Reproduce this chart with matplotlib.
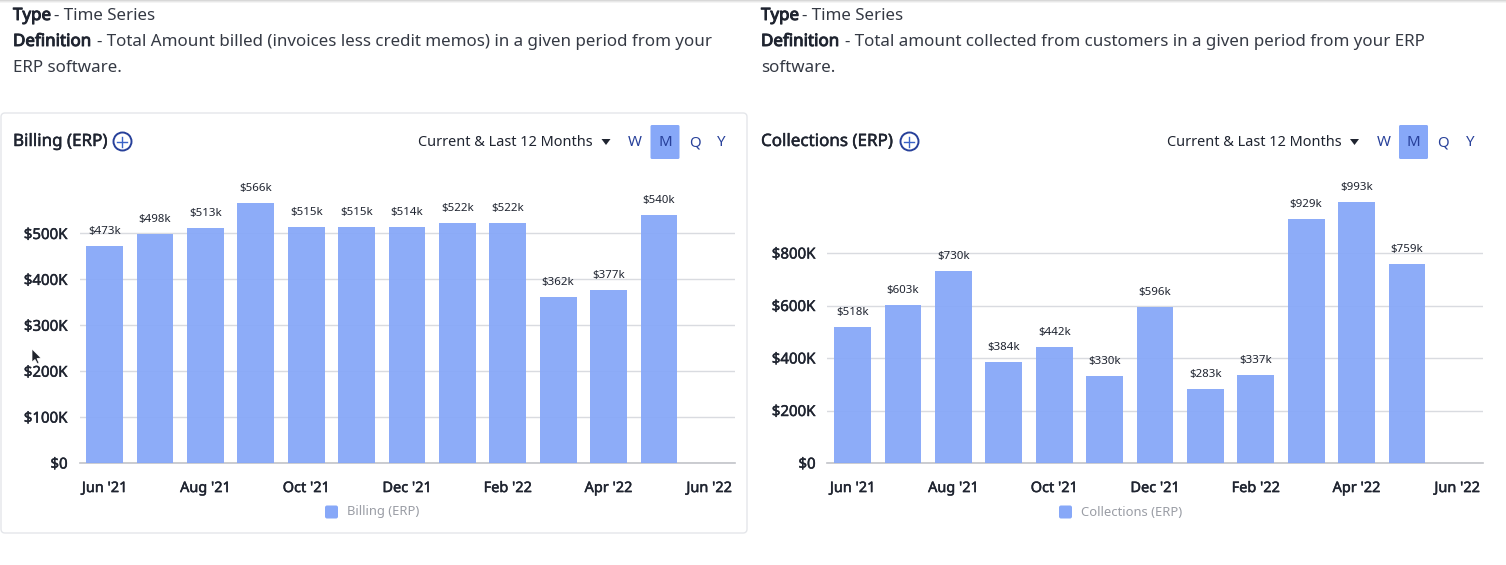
import matplotlib
matplotlib.use("Agg")
import matplotlib.pyplot as plt
import matplotlib.patheffects as pe
from matplotlib.patches import FancyBboxPatch, Rectangle, Circle, Polygon

plt.rcParams['font.family'] = ['Noto Sans', 'DejaVu Sans']

W, H = 1506, 565
months = ["Jun '21", "Jul '21", "Aug '21", "Sep '21", "Oct '21", "Nov '21", "Dec '21",
          "Jan '22", "Feb '22", "Mar '22", "Apr '22", "May '22", "Jun '22"]
billing = [473, 498, 513, 566, 515, 515, 514, 522, 522, 362, 377, 540]
collections = [518, 603, 730, 384, 442, 330, 596, 283, 337, 929, 993, 759]
billing_ticks = [0, 100, 200, 300, 400, 500]
collection_ticks = [0, 200, 400, 600, 800]
tick_every = 2
range_label = "Current & Last 12 Months"
period_labels = ["W", "M", "Q", "Y"]

BAR = '#87a8f8'
INK = '#1f2430'
BLUE = '#27409a'

fig = plt.figure(figsize=(W / 100, H / 100), dpi=100, facecolor='white')
bg = fig.add_axes([0, 0, 1, 1])
bg.set_xlim(0, W)
bg.set_ylim(H, 0)
bg.axis('off')


def px(size):
    return size * 0.72


def heavy(width):
    # the installed face has a single weight, so thicken the outline of emphasised text
    return [pe.withStroke(linewidth=width, foreground=INK)]


# browser shadow along the top edge
for i, c in enumerate(['#d8d8d8', '#e8e8e8', '#f4f4f4']):
    bg.add_patch(Rectangle((0, i), W, 1, fc=c, ec='none'))

# card around the left chart
bg.add_patch(FancyBboxPatch((1, 113), 746, 420, boxstyle='round,pad=0,rounding_size=4',
                            fc='white', ec='#e4e6ea', lw=1))


def header(x0, definition, line2):
    size = px(16.95)
    bg.text(x0, 16, "Type", fontsize=size, color=INK, va='center', path_effects=heavy(.7))
    bg.text(x0 + 41, 16, "- Time Series", fontsize=size, color=INK, va='center', alpha=.9)
    bg.text(x0, 42, "Definition", fontsize=size, color=INK, va='center', path_effects=heavy(.7))
    bg.text(x0 + 84, 42, "- " + definition, fontsize=size, color=INK, va='center', alpha=.9)
    bg.text(x0, 68, line2, fontsize=size, color=INK, va='center', alpha=.9)


def panel(x0, title, icon_x, values, ticks, per_tick_px, ax_left, legend_label, legend_x, ctl_x):
    bottom, top = 463, 168
    ax = fig.add_axes([ax_left / W, 1 - bottom / H, 655 / W, (bottom - top) / H])
    ax.patch.set_alpha(0)
    ax.set_xlim(-0.5, 12.5)
    ax.set_ylim(0, (bottom - top) / per_tick_px * (ticks[1] - ticks[0]))
    ax.bar(range(len(values)), values, width=0.73, color=BAR, alpha=.95, zorder=3)
    for i, v in enumerate(values):
        ax.annotate(f"${v}k", (i, v), xytext=(0, 9), textcoords='offset pixels', ha='center',
                    va='bottom', fontsize=px(11.5), color=INK)
    ax.set_yticks(ticks)
    ax.set_yticklabels([f"${t}K" if t else "$0" for t in ticks], fontsize=px(15), color=INK,
                       path_effects=heavy(.35))
    ax.set_xticks(range(0, len(months), tick_every))
    ax.set_xticklabels(months[::tick_every], fontsize=px(14.5), color=INK, path_effects=heavy(.35))
    ax.grid(axis='y', color='#d9dbe0', lw=1, zorder=0)
    ax.set_axisbelow(True)
    for s in ['top', 'left', 'right']:
        ax.spines[s].set_visible(False)
    ax.spines['bottom'].set_color('#c2c4c9')
    ax.spines['bottom'].set_linewidth(1.2)
    ax.tick_params(axis='both', length=0)
    ax.tick_params(axis='y', pad=8.5)
    ax.tick_params(axis='x', pad=13)

    # title and plus icon
    bg.text(x0, 142, title, fontsize=px(17), color=INK, va='center', path_effects=heavy(.35))
    bg.add_patch(Circle((icon_x, 141.5), 9, fc='white', ec=BLUE, lw=1.4))
    bg.plot([icon_x - 5, icon_x + 5], [141.5, 141.5], color='#3a63c8', lw=1)
    bg.plot([icon_x, icon_x], [136.5, 146.5], color='#3a63c8', lw=1)

    # range selector
    bg.text(ctl_x, 143, range_label, fontsize=px(14.5), color=INK, va='center')
    tri = ctl_x + 183
    bg.add_patch(Polygon([(tri, 139), (tri + 9, 139), (tri + 4.5, 145)], fc=INK, ec='none'))
    bg.add_patch(FancyBboxPatch((ctl_x + 232, 125), 29, 34, boxstyle='round,pad=0,rounding_size=1.5',
                                fc=BAR, ec='none'))
    for off, lab in zip([216.5, 246.5, 276, 303], period_labels):
        bg.text(ctl_x + off, 143, lab, fontsize=px(15), color=BLUE, va='center', ha='center')

    # legend
    bg.add_patch(FancyBboxPatch((legend_x, 505.5), 13, 13, boxstyle='round,pad=0,rounding_size=2',
                                fc=BAR, ec='none'))
    bg.text(legend_x + 22, 512, legend_label, fontsize=px(13), color='#9a9da5', va='center')
    return ax


header(13, "Total Amount billed (invoices less credit memos) in a given period from your", "ERP software.")
header(761, "Total amount collected from customers in a given period from your ERP", "software.")

panel(13, "Billing (ERP)", 122.5, billing, billing_ticks, 45.9, 79.5, "Billing (ERP)", 325, 418.5)
panel(761, "Collections (ERP)", 909.5, collections, collection_ticks, 52.5, 827.5, "Collections (ERP)", 1059, 1167)

# mouse pointer captured in the screenshot
bg.add_patch(Polygon([(32, 349), (32, 362), (35, 359.5), (37.5, 364), (39, 363), (37, 358.5), (41, 358)],
                     fc='#20242c', ec='white', lw=.5, zorder=10))

fig.savefig('out.png', dpi=100)
